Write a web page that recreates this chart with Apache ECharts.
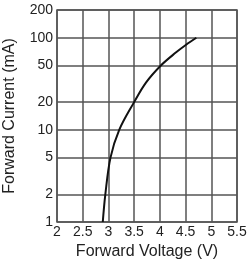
<!DOCTYPE html>
<html><head><meta charset="utf-8">
<script src="https://cdn.jsdelivr.net/npm/echarts@6/dist/echarts.min.js"></script>
<style>html,body{margin:0;padding:0;background:#fff}#c{width:248px;height:261px}</style>
</head><body><div id="c"></div>
<script>
const voltage = [2.89, 2.94, 3.04, 3.21, 3.5, 3.73, 4.02, 4.31, 4.51, 4.71];
const current = [1, 2, 5, 10, 20, 32.6, 50, 69, 84, 100];
const yTicks = [1, 2, 5, 10, 20, 50, 100, 200];
const xTitle = 'Forward Voltage (V)';
const yTitle = 'Forward Current (mA)';

const chart = echarts.init(document.getElementById('c'), null, {renderer: 'canvas'});
const font = 'Liberation Sans, Arial, sans-serif';
const gridColor = '#555';
chart.setOption({
  animation: false,
  grid: {left: 57, right: 11, top: 10, bottom: 39, show: true, borderColor: gridColor, borderWidth: 1.5,
         containLabel: false, outerBoundsMode: 'none'},
  xAxis: {
    type: 'value', min: 2, max: 5.5, interval: 0.5,
    name: xTitle, nameLocation: 'middle', nameGap: 16,
    nameTextStyle: {fontFamily: font, fontSize: 16, color: '#222'},
    axisLine: {show: false}, axisTick: {show: false},
    axisLabel: {fontFamily: font, fontSize: 14, color: '#222', margin: 3},
    splitLine: {show: true, lineStyle: {color: gridColor, width: 1.5}}
  },
  yAxis: {
    type: 'log', logBase: 10, min: 1, max: 200,
    name: yTitle, nameLocation: 'middle', nameGap: 39, nameRotate: 90,
    nameTextStyle: {fontFamily: font, fontSize: 16, color: '#222'},
    axisLine: {show: false},
    axisTick: {show: false, customValues: yTicks},
    axisLabel: {fontFamily: font, fontSize: 14, color: '#222', margin: 4, customValues: yTicks},
    splitLine: {show: true, lineStyle: {color: gridColor, width: 1.5}}
  },
  series: [{
    type: 'line', smooth: 0.35, showSymbol: false,
    data: voltage.map((v, i) => [v, current[i]]),
    lineStyle: {color: '#111', width: 2}
  }]
});
</script></body></html>
